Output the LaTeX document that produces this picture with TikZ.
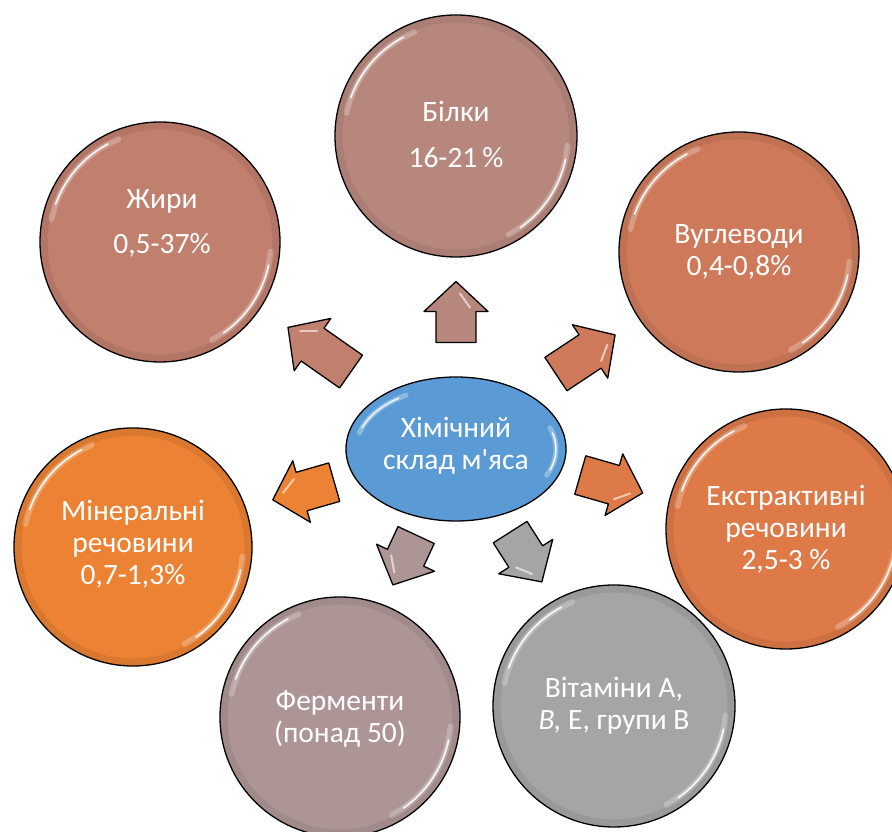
\documentclass[tikz,border=0pt]{standalone}
\usepackage{fontspec}
\setmainfont{Carlito}[Ligatures=TeXOff]
\usetikzlibrary{shapes.geometric}
\definecolor{cbi}{HTML}{B7877E}
\definecolor{czh}{HTML}{C17F6E}
\definecolor{cvu}{HTML}{CE7A5A}
\definecolor{cek}{HTML}{DE7A48}
\definecolor{cmi}{HTML}{EC8233}
\definecolor{cfe}{HTML}{AD9595}
\definecolor{cvi}{HTML}{A5A5A5}
\definecolor{cce}{HTML}{5B9BD5}
\newcommand\glossc[3]{%
  \draw[white, opacity=.25, line width=6pt, line cap=round] (#1,#2) ++(112:#3-9) arc[start angle=112, end angle=168, radius=#3-9];
  \draw[white, opacity=.85, line width=1.8pt, line cap=round] (#1,#2) ++(118:#3-9) arc[start angle=118, end angle=160, radius=#3-9];
  \draw[white, opacity=.25, line width=6pt, line cap=round] (#1,#2) ++(-5:#3-9) arc[start angle=-5, end angle=-62, radius=#3-9];
  \draw[white, opacity=.85, line width=1.8pt, line cap=round] (#1,#2) ++(-12:#3-9) arc[start angle=-12, end angle=-55, radius=#3-9];
  \draw[black, opacity=.07, line width=7pt] (#1,#2) circle[radius=#3-4];}
\newcommand\blockarrow[5]{%
  \draw[arrowbox, fill=#5, shift={(#1,#2)}, rotate=#3]
    (-#4/2,-20) -- (#4/2-30,-20) -- (#4/2-30,-32) -- (#4/2,0) -- (#4/2-30,32) -- (#4/2-30,20) -- (-#4/2,20) -- cycle;
  \draw[white, opacity=.6, line width=2pt, line cap=round, shift={(#1,#2)}, rotate=#3]
    (#4/2-26,-14) -- (#4/2-12,-4);}
\begin{document}
\begin{tikzpicture}[x=1pt,y=1pt,
  bub/.style={circle, draw=black, line width=1.3pt, inner sep=0pt, minimum size=240pt},
  txt/.style={text=white, align=center, font=\fontsize{29.5}{32}\selectfont},
  arrowbox/.style={draw=black, line width=1.3pt, line join=round}]
\useasboundingbox (0,0) rectangle (892,832);
% circles
\node[bub, fill=cbi, minimum size=242pt] (bi) at (456,696) {};
\glossc{456}{696}{121}
\node[bub, fill=czh] (zh) at (160,590) {};
\glossc{160}{590}{120}
\node[bub, fill=cvu] (vu) at (739,580) {};
\glossc{739}{580}{120}
\node[bub, fill=cek] (ek) at (786,303) {};
\glossc{786}{303}{120}
\node[bub, fill=cmi, minimum size=238pt] (mi) at (133,285) {};
\glossc{133}{285}{119}
\node[bub, fill=cfe] (fe) at (340,115) {};
\glossc{340}{115}{120}
\node[bub, fill=cvi, minimum size=242pt] (vi) at (614,126) {};
\glossc{614}{126}{121}
% texts
\node[txt] (bi-t) at (456,698) {Білки\\[14pt]16-21\,\%};
\node[txt] (zh-t) at (162,609) {Жири\\[13pt]0,5-37\%};
\node[txt] (vu-t) at (739,580) {Вуглеводи\\0,4-0,8\%};
\node[txt] (ek-t) at (786,303) {Екстрактивні\\речовини\\2,5-3 \%};
\node[txt] (mi-t) at (133,288) {Мінеральні\\речовини\\0,7-1,3\%};
\node[txt] (fe-t) at (340,113) {Ферменти\\(понад 50)};
\node[txt] (vi-t) at (614,126) {Вітаміни А,\\\textit{B,} Е, групи В};
% centre
\node[ellipse, draw=black, line width=1.3pt, fill=cce, minimum width=220pt, minimum height=144pt, inner sep=0pt] (c) at (456,383) {};
\draw[white, opacity=.3, line width=5pt, line cap=round] (c.center) ++(120:100 and 62) arc[start angle=120, end angle=165, x radius=100, y radius=62];
\draw[white, opacity=.85, line width=1.6pt, line cap=round] (c.center) ++(125:100 and 62) arc[start angle=125, end angle=160, x radius=100, y radius=62];
\draw[white, opacity=.3, line width=5pt, line cap=round] (c.center) ++(20:100 and 62) arc[start angle=20, end angle=-25, x radius=100, y radius=62];
\draw[white, opacity=.85, line width=1.6pt, line cap=round] (c.center) ++(15:100 and 62) arc[start angle=15, end angle=-20, x radius=100, y radius=62];
\node[txt] (c-t) at (456,386) {Хімічний\\склад м'яса};
% arrows
\blockarrow{456}{520}{90}{61}{cbi}
\blockarrow{319.5}{482.5}{145}{77}{czh}
\blockarrow{585.5}{477.5}{33.5}{71}{cvu}
\blockarrow{303.5}{341}{196}{64}{cmi}
\blockarrow{611.5}{348}{-16}{65}{cek}
\blockarrow{404.5}{272}{-115}{55}{cfe}
\blockarrow{526}{275}{-57.5}{59}{cvi}
\end{tikzpicture}
\end{document}
